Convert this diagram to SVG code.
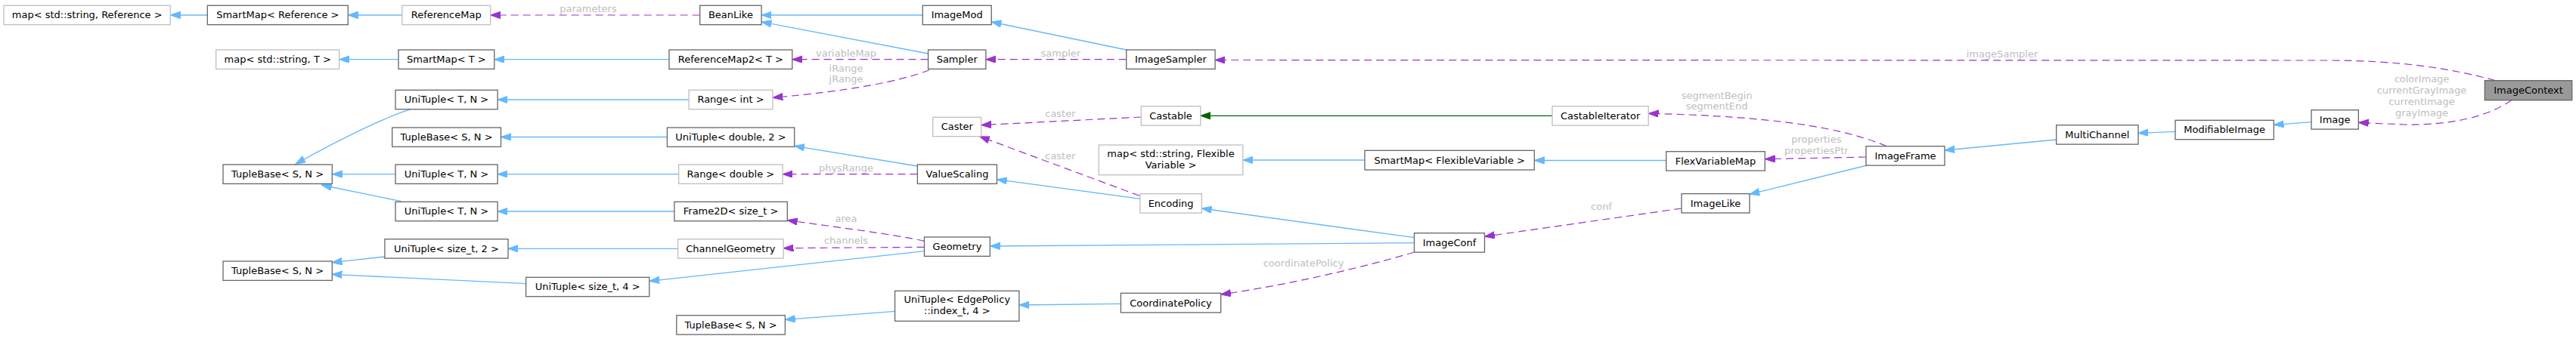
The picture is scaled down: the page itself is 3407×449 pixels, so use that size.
<svg xmlns="http://www.w3.org/2000/svg" width="3407" height="449" viewBox="0 0 3407 449">
<defs>
<style>
.n rect{fill:#fff;stroke:#666;stroke-width:1.3}
.n.u rect{stroke:#bfbfbf}
.n.f rect{fill:#999}
.n text{font-family:"DejaVu Sans","Liberation Sans",sans-serif;font-size:13px;text-anchor:middle;fill:#000}
.lb{font-family:"DejaVu Sans","Liberation Sans",sans-serif;font-size:13px;text-anchor:middle;fill:#bebebe}
.inh{fill:none;stroke:#63b8ff;stroke-width:1.3;marker-end:url(#ab)}
.use{fill:none;stroke:#9a32cd;stroke-width:1.2;stroke-dasharray:10,6;marker-end:url(#ap)}
.tpl{fill:none;stroke:#006400;stroke-width:1.3;marker-end:url(#ag)}
</style>
<marker id="ab" markerWidth="15" markerHeight="11" refX="13.3" refY="4.7" orient="auto" markerUnits="userSpaceOnUse"><path d="M0,0 L13.3,4.7 L0,9.4 z" fill="#63b8ff" stroke="#63b8ff" stroke-width="1"/></marker>
<marker id="ap" markerWidth="15" markerHeight="11" refX="13.3" refY="4.7" orient="auto" markerUnits="userSpaceOnUse"><path d="M0,0 L13.3,4.7 L0,9.4 z" fill="#9a32cd" stroke="#9a32cd" stroke-width="1"/></marker>
<marker id="ag" markerWidth="15" markerHeight="11" refX="13.3" refY="4.7" orient="auto" markerUnits="userSpaceOnUse"><path d="M0,0 L13.3,4.7 L0,9.4 z" fill="#006400" stroke="#006400" stroke-width="1"/></marker>
</defs>
<rect width="3407" height="449" fill="#fff"/>
<g id="edges">
<path class="inh" d="M274.3,20 L225.3,20"/>
<path class="inh" d="M531.8,20 L460.3,20"/>
<path class="inh" d="M1220.3,20 L1007.1,20"/>
<path class="inh" d="M1227.6,71 L1007.1,29"/>
<path class="use" d="M925.7,20 L648.7,20"/>
<text class="lb" x="778" y="16">parameters</text>
<path class="inh" d="M885,78.7 L653.8,78.7"/>
<path class="inh" d="M527,78.7 L448.7,78.7"/>
<path class="use" d="M1227.6,78.7 L1047.8,78.7"/>
<text class="lb" x="1119" y="74.5">variableMap</text>
<path class="use" d="M1489.7,78.7 L1303.9,78.7"/>
<text class="lb" x="1402.8" y="74.5">sampler</text>
<path class="inh" d="M1489.7,66 L1311.2,29"/>
<path class="use" d="M3300,106.5 C3240,90 3170,80 3080,80 L1607.1,79.5"/>
<text class="lb" x="2648" y="76">imageSampler</text>
<path class="use" d="M1229,92.7 C1190,108 1120,121 1022,129.3"/>
<text class="lb" x="1119" y="95">iRange</text>
<text class="lb" x="1119" y="109.3">jRange</text>
<path class="inh" d="M543.4,144.7 C510,155 450,184 390.8,217.3"/>
<path class="inh" d="M911.1,132 L658.1,132"/>
<path class="inh" d="M882.4,181.5 L662.5,181.5"/>
<path class="inh" d="M523,230.7 L439.3,230.7"/>
<path class="inh" d="M897.7,230.7 L658.1,230.7"/>
<path class="inh" d="M530.7,266.7 L425.3,245"/>
<path class="inh" d="M891.9,280 L658.1,280"/>
<path class="inh" d="M508.9,340 L439.1,347.7"/>
<path class="inh" d="M896.6,329.3 L672,329.3"/>
<path class="inh" d="M695.6,375.7 L439.1,363.3"/>
<path class="inh" d="M1183.6,412.3 L1038.4,423.3"/>
<path class="inh" d="M1482.4,402.3 L1347.9,404"/>
<path class="inh" d="M1213.4,220 L1050.7,193.3"/>
<path class="use" d="M1213.4,230.7 L1035.1,230.7"/>
<text class="lb" x="1119" y="227">physRange</text>
<path class="inh" d="M1507.9,263.3 L1318.5,237.7"/>
<path class="use" d="M1507.1,259.3 L1295.6,180.7"/>
<text class="lb" x="1402.4" y="211">caster</text>
<path class="use" d="M1509.3,155 L1297.8,165.7"/>
<text class="lb" x="1402.4" y="155">caster</text>
<path class="tpl" d="M2053,153.3 L1587.8,153.3"/>
<path class="use" d="M2495,193.7 C2440,170 2350,154 2180.2,150.3"/>
<text class="lb" x="2270.7" y="131">segmentBegin</text>
<text class="lb" x="2270.7" y="145.3">segmentEnd</text>
<path class="use" d="M2468,208 L2334.3,210.7"/>
<text class="lb" x="2402.3" y="189.3">properties</text>
<text class="lb" x="2402.3" y="204.3">propertiesPtr</text>
<path class="inh" d="M2469.3,219 L2314,257.3"/>
<path class="inh" d="M2203.7,212.5 L2029.3,212.5"/>
<path class="inh" d="M1805,212 L1643.8,212"/>
<path class="use" d="M2224.2,276 L1963.5,313.3"/>
<text class="lb" x="2118" y="278.3">conf</text>
<path class="inh" d="M1870.5,314.7 L1589.3,276"/>
<path class="inh" d="M1870.5,321.7 L1309.4,326"/>
<path class="use" d="M1870.5,334 C1800,355 1700,378 1614.7,390"/>
<text class="lb" x="1724" y="353.3">coordinatePolicy</text>
<path class="use" d="M1222.5,319.3 C1180,310 1100,300 1041.3,291.7"/>
<text class="lb" x="1119" y="293.6">area</text>
<path class="use" d="M1222.5,327.3 L1036.2,328.7"/>
<text class="lb" x="1119" y="322.6">channels</text>
<path class="inh" d="M1222.5,332.7 L858.8,372.3"/>
<path class="inh" d="M2719.7,185 L2572,199"/>
<path class="inh" d="M2877,174.3 L2828,176.3"/>
<path class="inh" d="M3057,161.7 L3007.3,165.3"/>
<path class="use" d="M3321.7,132.7 C3290,155 3240,166 3180,165 L3119.3,162.3"/>
<text class="lb" x="3203" y="109.3">colorImage</text>
<text class="lb" x="3203" y="124.3">currentGrayImage</text>
<text class="lb" x="3203" y="139.3">currentImage</text>
<text class="lb" x="3203" y="153.6">grayImage</text>
</g>
<g id="n1" class="n u"><rect x="5" y="7.3" width="220.3" height="25.4"/><text x="115.2" y="24.3">map&lt; std::string, Reference &gt;</text></g>
<g id="n2" class="n"><rect x="274.3" y="7.3" width="186" height="25.4"/><text x="367.3" y="24.3">SmartMap&lt; Reference &gt;</text></g>
<g id="n3" class="n u"><rect x="531.8" y="7.3" width="116.9" height="25.4"/><text x="590.2" y="24.3">ReferenceMap</text></g>
<g id="n4" class="n"><rect x="925.7" y="7.3" width="81.4" height="25.4"/><text x="966.4" y="24.3">BeanLike</text></g>
<g id="n5" class="n"><rect x="1220.3" y="7.3" width="90.9" height="25.4"/><text x="1265.7" y="24.3">ImageMod</text></g>
<g id="n6" class="n u"><rect x="285.7" y="66" width="163" height="25.4"/><text x="367.2" y="83">map&lt; std::string, T &gt;</text></g>
<g id="n7" class="n"><rect x="527" y="66" width="126.8" height="25.4"/><text x="590.4" y="83">SmartMap&lt; T &gt;</text></g>
<g id="n8" class="n"><rect x="885" y="66" width="162.8" height="25.4"/><text x="966.4" y="83">ReferenceMap2&lt; T &gt;</text></g>
<g id="n9" class="n"><rect x="1227.6" y="66" width="76.3" height="25.4"/><text x="1265.7" y="83">Sampler</text></g>
<g id="n10" class="n"><rect x="1489.7" y="66" width="117.4" height="25.4"/><text x="1548.4" y="83">ImageSampler</text></g>
<g id="n11" class="n f"><rect x="3286.3" y="106.7" width="115.4" height="26"/><text x="3344" y="124">ImageContext</text></g>
<g id="n12" class="n"><rect x="523" y="119.3" width="135.1" height="25.4"/><text x="590.5" y="136.3">UniTuple&lt; T, N &gt;</text></g>
<g id="n13" class="n u"><rect x="911.1" y="119.3" width="110.9" height="25.4"/><text x="966.5" y="136.3">Range&lt; int &gt;</text></g>
<g id="n14" class="n"><rect x="518.7" y="169" width="143.8" height="25.4"/><text x="590.6" y="186">TupleBase&lt; S, N &gt;</text></g>
<g id="n15" class="n"><rect x="882.4" y="169" width="168.3" height="25.4"/><text x="966.5" y="186">UniTuple&lt; double, 2 &gt;</text></g>
<g id="n16" class="n"><rect x="295" y="218" width="144.3" height="25.4"/><text x="367.1" y="235">TupleBase&lt; S, N &gt;</text></g>
<g id="n17" class="n"><rect x="523" y="218" width="135.1" height="25.4"/><text x="590.5" y="235">UniTuple&lt; T, N &gt;</text></g>
<g id="n18" class="n u"><rect x="897.7" y="218" width="137.4" height="25.4"/><text x="966.4" y="235">Range&lt; double &gt;</text></g>
<g id="n19" class="n"><rect x="523" y="267.3" width="135.1" height="25.4"/><text x="590.5" y="284.3">UniTuple&lt; T, N &gt;</text></g>
<g id="n20" class="n"><rect x="891.9" y="267.3" width="149.4" height="25.4"/><text x="966.6" y="284.3">Frame2D&lt; size_t &gt;</text></g>
<g id="n21" class="n"><rect x="508.9" y="316.7" width="163.1" height="25.4"/><text x="590.4" y="333.7">UniTuple&lt; size_t, 2 &gt;</text></g>
<g id="n22" class="n u"><rect x="896.6" y="316.7" width="139.6" height="25.4"/><text x="966.4" y="333.7">ChannelGeometry</text></g>
<g id="n23" class="n"><rect x="295" y="346" width="144.3" height="25.4"/><text x="367.1" y="363">TupleBase&lt; S, N &gt;</text></g>
<g id="n24" class="n"><rect x="695.6" y="367.3" width="163.2" height="25.4"/><text x="777.2" y="384.3">UniTuple&lt; size_t, 4 &gt;</text></g>
<g id="n25" class="n"><rect x="894.8" y="417.7" width="143.6" height="25.4"/><text x="966.6" y="434.7">TupleBase&lt; S, N &gt;</text></g>
<g id="n26" class="n u"><rect x="1233.8" y="155.3" width="64" height="25.4"/><text x="1265.8" y="172.3">Caster</text></g>
<g id="n27" class="n u"><rect x="1509.3" y="140.7" width="78.5" height="25.4"/><text x="1548.5" y="157.7">Castable</text></g>
<g id="n28" class="n u"><rect x="1453.3" y="192" width="190.5" height="39.7"/><text x="1548.5" y="207.5">map&lt; std::string, Flexible</text><text x="1548.5" y="222.5">Variable &gt;</text></g>
<g id="n29" class="n"><rect x="1213.4" y="218" width="105.1" height="25.4"/><text x="1266" y="235">ValueScaling</text></g>
<g id="n30" class="n u"><rect x="1507.9" y="256.7" width="81.4" height="25.4"/><text x="1548.6" y="273.7">Encoding</text></g>
<g id="n31" class="n"><rect x="1222.5" y="314" width="86.9" height="25.4"/><text x="1266" y="331">Geometry</text></g>
<g id="n32" class="n"><rect x="1183.6" y="385.3" width="164.3" height="40"/><text x="1265.8" y="400.7">UniTuple&lt; EdgePolicy</text><text x="1265.8" y="415.7">::index_t, 4 &gt;</text></g>
<g id="n33" class="n"><rect x="1482.4" y="388.3" width="132.3" height="25.7"/><text x="1548.5" y="405.5">CoordinatePolicy</text></g>
<g id="n34" class="n u"><rect x="2053" y="140.7" width="127.2" height="25.4"/><text x="2116.6" y="157.7">CastableIterator</text></g>
<g id="n35" class="n"><rect x="1805" y="199.3" width="224.3" height="25.7"/><text x="1917.2" y="216.5">SmartMap&lt; FlexibleVariable &gt;</text></g>
<g id="n36" class="n"><rect x="2203.7" y="200.7" width="130.6" height="25.4"/><text x="2269" y="217.7">FlexVariableMap</text></g>
<g id="n37" class="n"><rect x="1870.5" y="308.7" width="93" height="25.4"/><text x="1917" y="325.7">ImageConf</text></g>
<g id="n38" class="n"><rect x="2224" y="256.6" width="90" height="25.4"/><text x="2269" y="273.6">ImageLike</text></g>
<g id="n39" class="n"><rect x="2468" y="193.7" width="104" height="25.4"/><text x="2520" y="210.7">ImageFrame</text></g>
<g id="n40" class="n"><rect x="2719.7" y="165.7" width="108.3" height="25.4"/><text x="2773.8" y="182.7">MultiChannel</text></g>
<g id="n41" class="n"><rect x="2877" y="159.3" width="130.3" height="25.4"/><text x="2942.2" y="176.3">ModifiableImage</text></g>
<g id="n42" class="n"><rect x="3057" y="145.7" width="62.3" height="25.4"/><text x="3088.2" y="162.7">Image</text></g>
</svg>
